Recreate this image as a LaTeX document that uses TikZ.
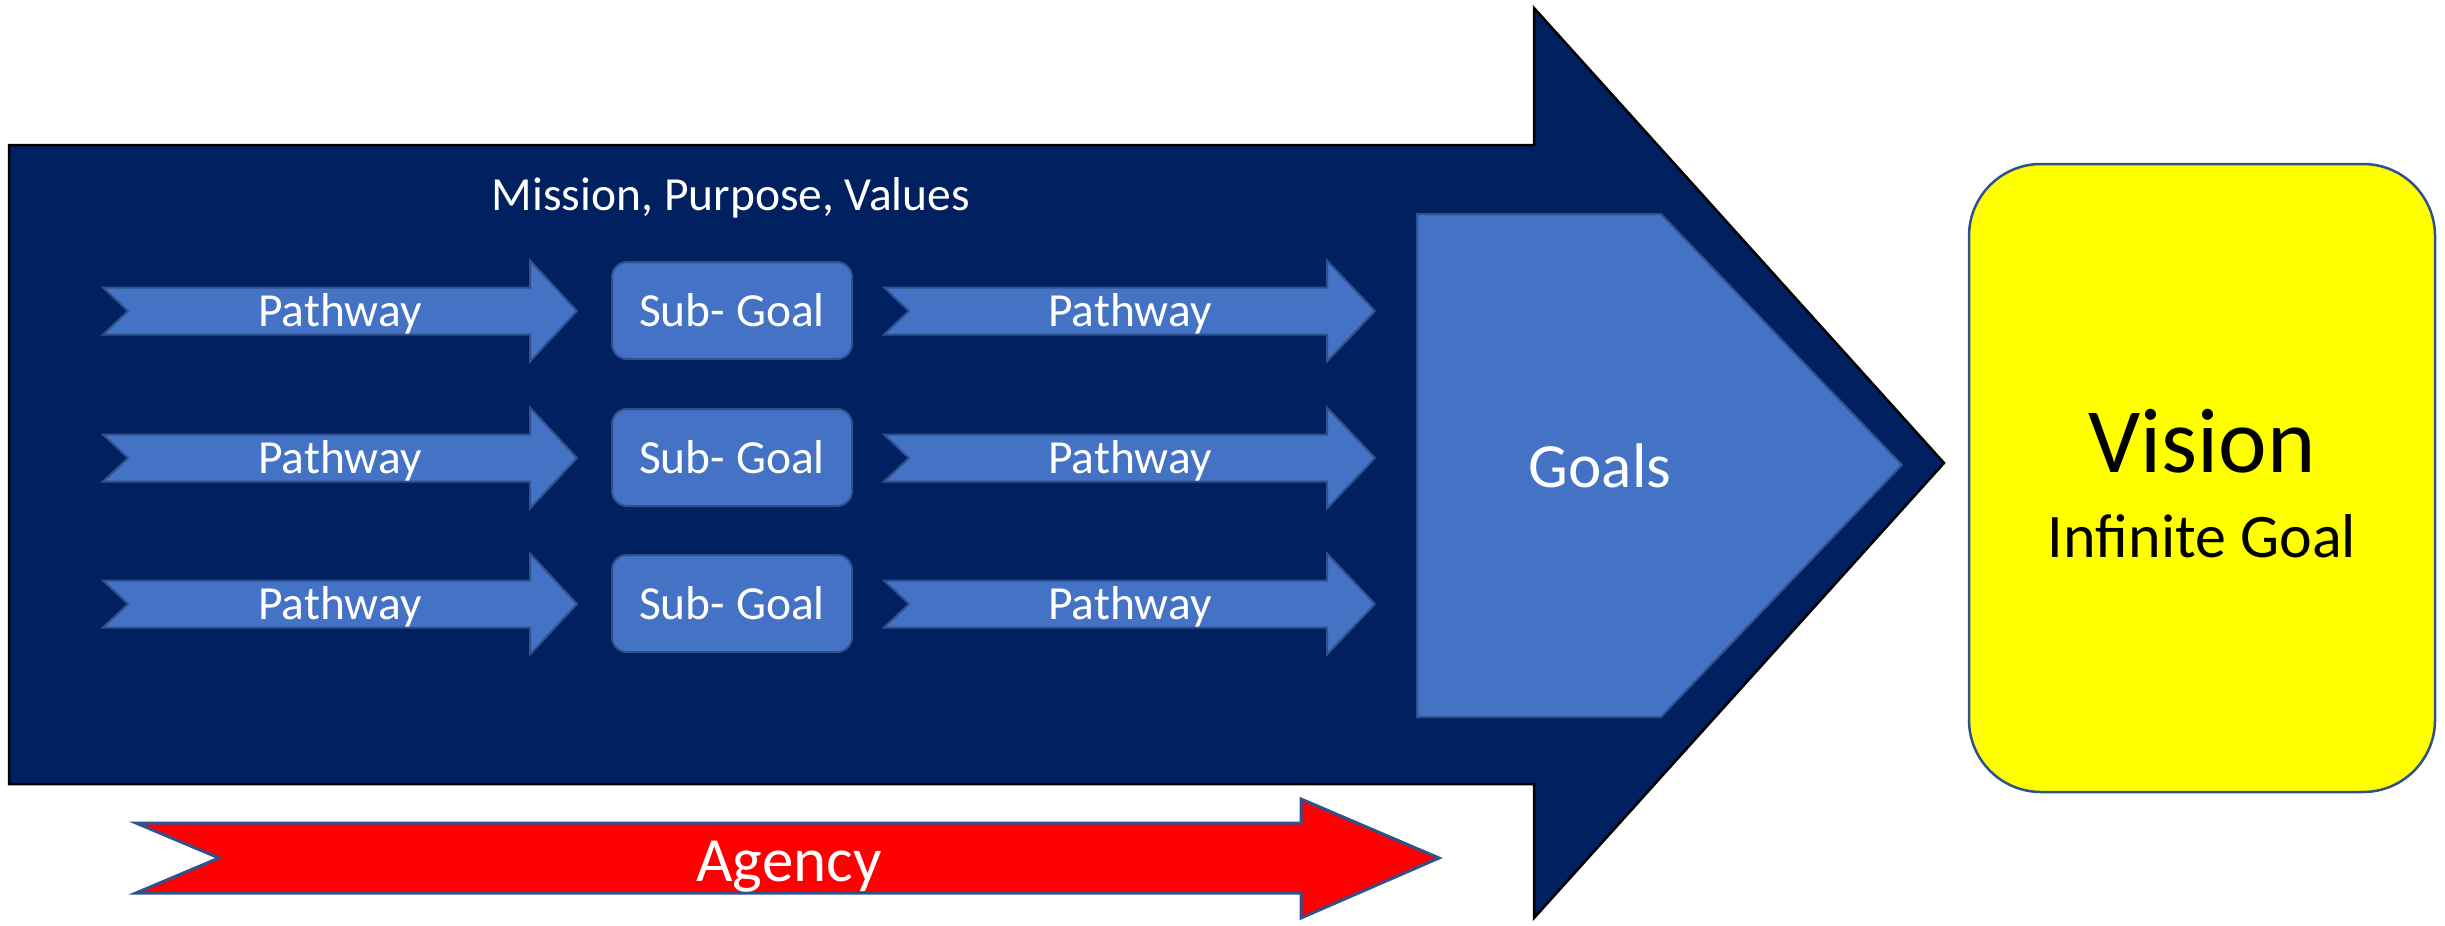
\documentclass[tikz,border=0pt]{standalone}
\usepackage{fontspec}
\setmainfont{Carlito}
\definecolor{navy}{HTML}{002060}
\definecolor{midblue}{HTML}{4472C4}
\definecolor{edgeblue}{HTML}{2F528F}
\definecolor{signred}{HTML}{FF0000}
\definecolor{signyellow}{HTML}{FFFF00}
\begin{document}
\begin{tikzpicture}[x=1pt,y=-1pt,
  bigarrow/.style={fill=navy,draw=black,line width=2.5pt,line join=miter},
  pathshape/.style={fill=midblue,draw=edgeblue,line width=2pt,line join=miter},
  subbox/.style={fill=midblue,draw=edgeblue,line width=2pt,rounded corners=15pt},
  goalshape/.style={fill=midblue,draw=edgeblue,line width=2pt,line join=miter},
  agencyshape/.style={fill=signred,draw=edgeblue,line width=3pt,line join=miter},
  visionbox/.style={fill=signyellow,draw=edgeblue,line width=2.5pt,rounded corners=72pt},
  smalltext/.style={text=white,anchor=base,inner sep=0pt,font=\fontsize{47.5}{57}\selectfont},
  bigtext/.style={text=white,anchor=base,inner sep=0pt,font=\fontsize{63}{76}\selectfont}]

\useasboundingbox (0,0) rectangle (2445,926);

% main navy arrow
\path[bigarrow] (9,145) -- (1534,145) -- (1534,8) -- (1944,463)
  -- (1534,918) -- (1534,784) -- (9,784) -- cycle;

\node[smalltext] (mission) at (731,210) {Mission, Purpose, Values};

% three rows of pathway -> sub-goal -> pathway
\foreach \c/\n in {311/1,458/2,604/3}{
  \path[pathshape] (103,\c-23.5) -- (530,\c-23.5) -- (530,\c-50.5) -- (577,\c)
    -- (530,\c+50.5) -- (530,\c+23.5) -- (103,\c+23.5) -- (128,\c) -- cycle;
  \path[pathshape] (884,\c-23.5) -- (1327,\c-23.5) -- (1327,\c-50.5) -- (1375,\c)
    -- (1327,\c+50.5) -- (1327,\c+23.5) -- (884,\c+23.5) -- (909,\c) -- cycle;
  \path[subbox] (612,\c-49) rectangle (852,\c+48);
  \node[smalltext] (pathA\n) at (340,\c+15.3) {Pathway};
  \node[smalltext] (sub\n) at (732,\c+15.3) {Sub- Goal};
  \node[smalltext] (pathB\n) at (1130,\c+15.3) {Pathway};
}

% goals pentagon
\path[goalshape] (1417,214) -- (1661,214) -- (1902,465) -- (1661,717) -- (1417,717) -- cycle;
\node[bigtext] (goals) at (1600,487) {Goals};

% agency arrow
\path[agencyshape] (136,823) -- (1301,823) -- (1301,799) -- (1439,858)
  -- (1301,918) -- (1301,893) -- (136,893) -- (219,858) -- cycle;
\node[bigtext] (agency) at (789,881) {Agency};

% vision box
\path[visionbox] (1969,164) rectangle (2435,792);
\node[anchor=base,inner sep=0pt,font=\fontsize{92}{110}\selectfont] (vision) at (2202,472) {Vision};
\node[anchor=base,inner sep=0pt,font=\fontsize{62}{74}\selectfont] (infinite) at (2202,557) {Infinite Goal};

\end{tikzpicture}
\end{document}
